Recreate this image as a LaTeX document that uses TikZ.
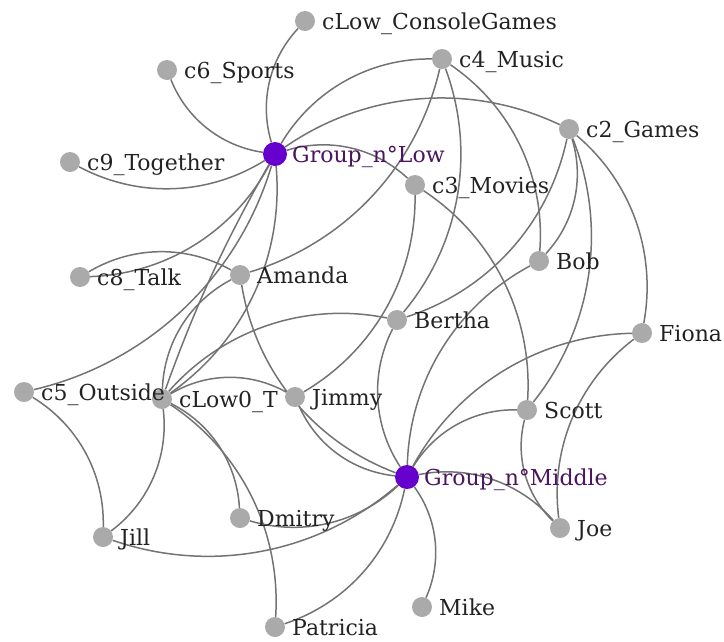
\documentclass[tikz,border=0pt]{standalone}
\usepackage{fontspec}
\setmainfont{DejaVu Serif}
\usetikzlibrary{backgrounds}

\definecolor{nodegray}{RGB}{170,170,170}
\definecolor{grouppurple}{RGB}{102,0,204}
\definecolor{linkgray}{RGB}{115,115,115}
\definecolor{labeldark}{RGB}{34,34,34}
\definecolor{grouplabel}{RGB}{75,20,95}

% captions sit above every circle
\pgfdeclarelayer{captions}
\pgfsetlayers{background,main,captions}

\tikzset{
  member/.style={circle, fill=nodegray, minimum size=20pt, inner sep=0pt},
  group/.style={circle, fill=grouppurple, minimum size=24pt, inner sep=0pt},
  lbl/.style={anchor=base west, inner sep=0pt, text=labeldark,
              font=\fontsize{22}{26}\selectfont},
  glbl/.style={lbl, text=grouplabel},
  link/.style={draw=linkgray, line width=1.5pt, bend left=30, looseness=0.92},
}

% place a vertex with its caption to the right; #1 name, #2 style, #3 x, #4 y (down), #5 caption
\newcommand{\vtx}[6]{%
  \node[#2] (#1) at (#3,-#4) {};
  \begin{pgfonlayer}{captions}
    \node[#6] (#1-t) at (#3+17,-#4-8) {#5};
  \end{pgfonlayer}
}

\begin{document}
\begin{tikzpicture}[x=1pt,y=1pt]
\useasboundingbox (0,0) rectangle (724,-641);

\vtx{ccg}{member}{305}{21}{cLow\_ConsoleGames}{lbl}
\vtx{spo}{member}{167}{70}{c6\_Sports}{lbl}
\vtx{mus}{member}{442}{59}{c4\_Music}{lbl}
\vtx{gam}{member}{569}{129}{c2\_Games}{lbl}
\vtx{gl}{group}{275}{154}{Group\_n°Low}{glbl}
\vtx{tog}{member}{70}{162}{c9\_Together}{lbl}
\vtx{mov}{member}{415}{185}{c3\_Movies}{lbl}
\vtx{tal}{member}{80}{277}{c8\_Talk}{lbl}
\vtx{ama}{member}{240}{275}{Amanda}{lbl}
\vtx{bob}{member}{539}{261}{Bob}{lbl}
\vtx{ber}{member}{397}{320}{Bertha}{lbl}
\vtx{fio}{member}{642}{333}{Fiona}{lbl}
\vtx{out}{member}{24}{392}{c5\_Outside}{lbl}
\vtx{clt}{member}{162}{399}{cLow0\_T}{lbl}
\vtx{jim}{member}{295}{397}{Jimmy}{lbl}
\vtx{sco}{member}{527}{410}{Scott}{lbl}
\vtx{gm}{group}{407}{477}{Group\_n°Middle}{glbl}
\vtx{joe}{member}{560}{528}{Joe}{lbl}
\vtx{dmi}{member}{240}{518}{Dmitry}{lbl}
\vtx{jil}{member}{103}{537}{Jill}{lbl}
\vtx{mik}{member}{422}{607}{Mike}{lbl}
\vtx{pat}{member}{275}{627}{Patricia}{lbl}

\begin{scope}[on background layer]
  % links of the low group
  \draw[link] (gl) to (ccg);
  \draw[link] (gl) to (spo);
  \draw[link] (gl) to (tog);
  \draw[link] (gl) to (mus);
  \draw[link] (gl) to (gam);
  \draw[link] (gl) to (mov);
  \draw[link] (gl) to (tal);
  \draw[link] (gl) to (out);
  \draw[link] (gl) to (clt);
  \draw[link, bend left=0, bend right=5] (gl) to (clt);
  % links around Amanda and cLow0_T
  \draw[link] (tal) to (ama);
  \draw[link] (mus) to (ama);
  \draw[link] (clt) to (ama);
  \draw[link] (gm) to (ama);
  \draw[link] (clt) to (jim);
  \draw[link] (clt) to (ber);
  \draw[link] (clt) to (dmi);
  \draw[link] (clt) to (pat);
  \draw[link] (clt) to (jil);
  \draw[link] (out) to (jil);
  % links of the middle group
  \draw[link] (gm) to (jil);
  \draw[link] (gm) to (dmi);
  \draw[link] (gm) to (pat);
  \draw[link] (gm) to (mik);
  \draw[link] (gm) to (joe);
  \draw[link] (gm) to (sco);
  \draw[link] (gm) to (fio);
  \draw[link] (gm) to (bob);
  \draw[link] (gm) to (ber);
  \draw[link] (gm) to (jim);
  % topic links
  \draw[link] (mov) to (jim);
  \draw[link] (mov) to (sco);
  \draw[link] (mus) to (ber);
  \draw[link] (mus) to (bob);
  \draw[link] (gam) to (ber);
  \draw[link] (gam) to (bob);
  \draw[link] (gam) to (sco);
  \draw[link] (gam) to (fio);
  \draw[link] (joe) to (fio);
  \draw[link] (joe) to (sco);
\end{scope}
\end{tikzpicture}
\end{document}
